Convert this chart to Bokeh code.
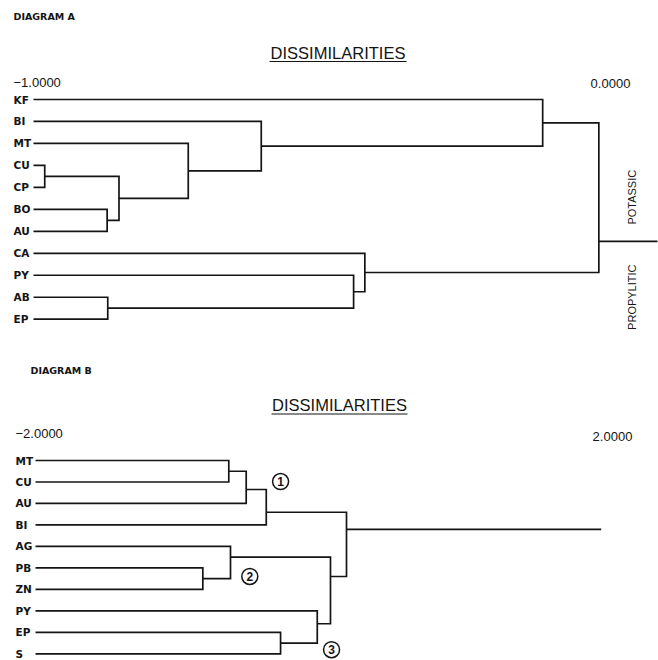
import math
from bokeh.plotting import figure
from bokeh.models import Range1d
from bokeh.layouts import column
from bokeh.embed import file_html
from bokeh.resources import INLINE
from bokeh.core.properties import value

# ---------------- DATA ----------------
# Diagram A (dissimilarity scale -1 .. 0)
a_leaves = ["KF", "BI", "MT", "CU", "CP", "BO", "AU", "CA", "PY", "AB", "EP"]
# merges: ids < n are leaves, id n+k is merge k
a_left = [3, 5, 11, 2, 1, 0, 9, 8, 7, 16]
a_right = [4, 6, 12, 13, 14, 15, 10, 17, 18, 19]
a_height = [-0.982, -0.882, -0.863, -0.752, -0.635, -0.184, -0.881, -0.487, -0.469, -0.094]
a_row_override = {9: 6.46}
a_leaf_level = -1.0
a_root_end = 0.0
a_scale_labels = ["\u22121.0000", "0.0000"]
a_group_labels = ["POTASSIC", "PROPYLITIC"]

# Diagram B (dissimilarity scale -2 .. 2)
b_leaves = ["MT", "CU", "AU", "BI", "AG", "PB", "ZN", "PY", "EP", "S"]
b_left = [0, 10, 11, 5, 4, 8, 7, 14, 12]
b_right = [1, 2, 3, 6, 13, 9, 15, 16, 17]
b_height = [-0.757, -0.645, -0.516, -0.924, -0.746, -0.424, -0.188, -0.103, 0.0]
b_row_override = {1: 1.35, 2: 2.41, 4: 4.5, 6: 7.6, 7: 5.4, 8: 3.21}
b_leaf_level = -2.0
b_root_end = 1.638
b_scale_labels = ["\u22122.0000", "2.0000"]
b_cluster_ids = ["1", "2", "3"]
b_cluster_x = [-0.424, -0.622, -0.096]
b_cluster_row = [0.98, 5.4, 8.81]

title_text = "DISSIMILARITIES"

# ---------------- LAYOUT HELPERS ----------------
LINE = "#141414"
FONT = value("Liberation Sans")
LBLFONT = value("DejaVu Sans")
W = 658
H_A = 344
H_B = 316


def make_fig(height, xr, yr):
    p = figure(width=W, height=height, x_range=Range1d(*xr), y_range=Range1d(*yr),
               output_backend="svg", toolbar_location=None,
               x_axis_location=None, y_axis_location=None, min_border=0)
    p.grid.visible = False
    p.outline_line_color = None
    p.background_fill_color = "white"
    p.border_fill_color = "white"
    return p


def draw_dendro(p, leaves, left, right, height, override, leaf_x, root_end):
    n = len(leaves)
    pos = {i: (leaf_x, float(i)) for i in range(n)}
    xs, ys = [], []
    for k, (l, r, h) in enumerate(zip(left, right, height)):
        xl, yl = pos[l]
        xr_, yr_ = pos[r]
        xs.append([xl, h, h, xr_])
        ys.append([yl, yl, yr_, yr_])
        pos[n + k] = (h, override.get(k, (yl + yr_) / 2))
    rx, ry = pos[n + len(left) - 1]
    xs.append([rx, root_end])
    ys.append([ry, ry])
    p.multi_line(xs, ys, line_color=LINE, line_width=1.7, line_join="miter")


# ---------------- DIAGRAM A ----------------
A_X0, A_PX, A_Y0, A_RS = 33.0, 624.0, 99.0, 21.97
ax = lambda sx: a_leaf_level + (sx - A_X0) / A_PX
ay = lambda sy: (sy - A_Y0) / A_RS
pA = make_fig(H_A, (ax(0), ax(W)), (ay(H_A), ay(0)))
draw_dendro(pA, a_leaves, a_left, a_right, a_height, a_row_override, a_leaf_level, a_root_end)

pA.text(x=[ax(13)] * len(a_leaves), y=list(range(len(a_leaves))), text=a_leaves,
        text_font=LBLFONT, text_font_size="10.5px", text_font_style="bold",
        text_align="left", text_baseline="middle", text_color=LINE)
pA.text(x=[ax(13)], y=[ay(16)], text=["DIAGRAM  A"], text_font=LBLFONT,
        text_font_size="9.5px", text_font_style="bold", text_align="left",
        text_baseline="middle", text_color=LINE)
pA.text(x=[ax(337.5)], y=[ay(52.5)], text=[title_text], text_font=FONT,
        text_font_size="16.5px", text_align="center", text_baseline="middle",
        text_color=LINE)
pA.segment(x0=[ax(269)], y0=[ay(61)], x1=[ax(406)], y1=[ay(61)],
           line_color=LINE, line_width=1.1)
pA.text(x=[ax(13), ax(610)], y=[ay(82), ay(82.5)], text=a_scale_labels,
        text_font=FONT, text_font_size="13px", text_align=["left", "center"],
        text_baseline="middle", text_color=LINE)
pA.text(x=[ax(631), ax(631)], y=[ay(196.7), ay(296.7)], text=a_group_labels,
        angle=math.pi / 2, text_font=FONT, text_font_size="11px",
        text_align="center", text_baseline="middle", text_color=LINE)

# ---------------- DIAGRAM B ----------------
B_TOP = H_A
B_X0, B_PX, B_Y0, B_RS = 35.0, 155.5, 460.0, 21.48
bx = lambda sx: b_leaf_level + (sx - B_X0) / B_PX
by = lambda sy: (sy - B_Y0) / B_RS
pB = make_fig(H_B, (bx(0), bx(W)), (by(B_TOP + H_B), by(B_TOP)))
draw_dendro(pB, b_leaves, b_left, b_right, b_height, b_row_override, b_leaf_level, b_root_end)

pB.text(x=[bx(15)] * len(b_leaves), y=list(range(len(b_leaves))), text=b_leaves,
        text_font=LBLFONT, text_font_size="10.5px", text_font_style="bold",
        text_align="left", text_baseline="middle", text_color=LINE)
pB.text(x=[bx(30)], y=[by(370)], text=["DIAGRAM  B"], text_font=LBLFONT,
        text_font_size="9.5px", text_font_style="bold", text_align="left",
        text_baseline="middle", text_color=LINE)
pB.text(x=[bx(339)], y=[by(404.5)], text=[title_text], text_font=FONT,
        text_font_size="16.5px", text_align="center", text_baseline="middle",
        text_color=LINE)
pB.segment(x0=[bx(271)], y0=[by(413.5)], x1=[bx(407)], y1=[by(413.5)],
           line_color=LINE, line_width=1.1)
pB.text(x=[bx(15), bx(612)], y=[by(433), by(435.5)], text=b_scale_labels,
        text_font=FONT, text_font_size="13px", text_align=["left", "center"],
        text_baseline="middle", text_color=LINE)
pB.scatter(x=b_cluster_x, y=b_cluster_row, marker="circle", size=16,
           fill_color="white", line_color=LINE, line_width=1.5)
pB.text(x=b_cluster_x, y=b_cluster_row, text=b_cluster_ids, text_font=FONT,
        text_font_size="12px", text_font_style="bold", text_align="center",
        text_baseline="middle", text_color=LINE)

layout = column(pA, pB, spacing=0)
open("out.html", "w").write(file_html(layout, INLINE))
